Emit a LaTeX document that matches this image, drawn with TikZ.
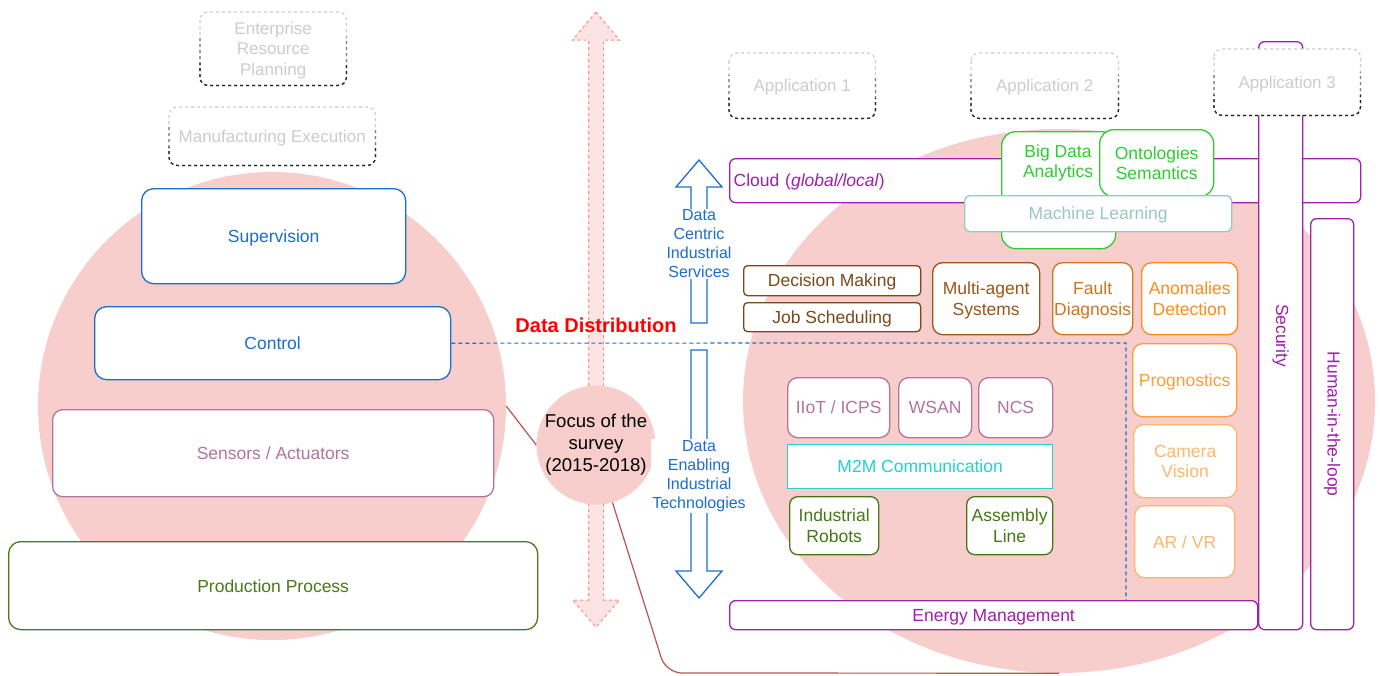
\documentclass[tikz,border=0pt]{standalone}
\usepackage{fontspec}
\usepackage{graphicx}
\setmainfont{Liberation Sans}
\usetikzlibrary{shapes.geometric}
\definecolor{pinkf}{HTML}{F8CECC}
\definecolor{redln}{HTML}{B85450}
\definecolor{arrowred}{HTML}{FF8A8A}
\definecolor{blu}{HTML}{1A6ECF}
\definecolor{mauve}{HTML}{B5739D}
\definecolor{olive}{HTML}{4A7A14}
\definecolor{dgreen}{HTML}{467716}
\definecolor{purp}{HTML}{A020AE}
\definecolor{bgreen}{HTML}{2FCC2F}
\definecolor{teal}{HTML}{9AC7BF}
\definecolor{dbrown}{HTML}{7A4919}
\definecolor{mbrown}{HTML}{9C5518}
\definecolor{forange}{HTML}{D2741F}
\definecolor{aorange}{HTML}{FF8B1E}
\definecolor{porange}{HTML}{FF9C3A}
\definecolor{lorange}{HTML}{FFB66C}
\definecolor{cyn}{HTML}{20D2D6}
\definecolor{ltgray}{HTML}{CCCCCC}
\newcommand\rbox[7]{\node[#1, anchor=north west, minimum width={#4-#2}, minimum height={#5-#3}] (#6) at (#2,#3) {#7};}
\newcommand\dashedbox[6]{%
  \node[dbox, anchor=north west, minimum width={#3-#1}, minimum height={#4-#2}] (#5) at (#1,#2) {#6};
  \draw[dashed, line width=1.2pt, draw=ltgray, rounded corners=8pt] (#5.north west) rectangle (#5.south east);
  \begin{scope}
    \clip ({#1-4},{#2+(#4-#2)*0.35}) rectangle ({#3+4},{#4+4});
    \draw[dashed, line width=1.2pt, draw=black!50, rounded corners=8pt] (#5.north west) rectangle (#5.south east);
  \end{scope}
  \begin{scope}
    \clip ({#1-4},{#2+(#4-#2)*0.7}) rectangle ({#3+4},{#4+4});
    \draw[dashed, line width=1.2pt, draw=black!85, rounded corners=8pt] (#5.north west) rectangle (#5.south east);
  \end{scope}}
\begin{document}
\begin{tikzpicture}[x=1pt,y=-1pt,
  lbl/.style={font=\fontsize{17.5}{20.5}\selectfont},
  box/.style={rectangle, draw, fill=white, line width=1.3pt, inner sep=0pt, align=center, rounded corners=12pt, lbl, text depth=0pt},
  dbox/.style={rectangle, fill=white, inner sep=0pt, align=center, rounded corners=8pt, text=ltgray, font=\fontsize{17}{20.5}\selectfont, text depth=0pt},
  bluebox/.style={box, draw=blu, text=blu},
  mauvebox/.style={box, draw=mauve, text=mauve, rounded corners=10pt},
  olivebox/.style={box, draw=olive, text=olive},
  purpbox/.style={box, draw=purp, text=purp, rounded corners=6pt},
  purpvbox/.style={rectangle, draw=purp, text=purp, fill=white, line width=1.3pt, inner sep=0pt, rounded corners=6pt, lbl},
  greenbox/.style={box, draw=bgreen, text=bgreen, rounded corners=14pt},
  brownbox/.style={box, draw=dbrown, text=dbrown, rounded corners=4pt},
  orbox/.style={box, rounded corners=10pt},
  bluearrow/.style={draw=blu, line width=1.3pt, fill=white, line join=miter},
  arrowlbl/.style={fill=white, inner sep=1pt, align=center, text=blu, font=\fontsize{16}{19}\selectfont},
  callout/.style={draw=redln, line width=1.2pt}
]
\useasboundingbox (0,0) rectangle (1380,675);
% background circles
\node[circle, fill=pinkf, minimum size=468pt, inner sep=0pt] (lcirc) at (272,406) {};
\node[ellipse, fill=pinkf, minimum width=632pt, minimum height=544pt, inner sep=0pt] (rell) at (1059,401) {};
% big dashed double arrow
\draw[dashed, draw=arrowred, fill=pinkf!55, line width=1pt]
  (596,12) -- (619.5,40) -- (603.5,40) -- (603.5,600) -- (619.5,600) -- (596,627)
  -- (572.5,600) -- (588.5,600) -- (588.5,40) -- (572.5,40) -- cycle;
% focus circle and callouts
\node[circle, fill=pinkf, minimum size=118pt, inner sep=0pt, align=center, font=\fontsize{18.6}{22}\selectfont] (focus) at (596,445) {Focus of the\\survey\\(2015-2018)};
\coordinate (bend) at (666,673);
\draw[callout] (lcirc.east) -- (focus.west);
\draw[callout, rounded corners=16pt] (focus.-74) -- (bend) -- (rell.south);
% data distribution
\node[text=red, font=\fontsize{20}{24}\selectfont\bfseries] (dd) at (596,325) {Data Distribution};
% left pyramid
\dashedbox{200}{12}{346}{85}{erp}{Enterprise\\Resource\\Planning}
\dashedbox{169}{107}{375}{165}{mes}{Manufacturing Execution}
\rbox{bluebox}{141}{188}{405}{283}{sup}{Supervision}
\rbox{bluebox}{94}{306}{450}{379}{ctrl}{Control}
\rbox{mauvebox}{52}{409}{493}{496}{sens}{Sensors / Actuators}
\rbox{olivebox}{8}{541}{537}{629}{prod}{Production Process}
% blue dashed boundary
\coordinate (dcorner) at (1126,343);
% blue arrows
\draw[bluearrow] (699,160) -- (722,187) -- (707,187) -- (707,323) -- (691,323) -- (691,187) -- (676,187) -- cycle;
\node[arrowlbl] (dcis) at (699,244) {Data\\Centric\\Industrial\\Services};
\draw[bluearrow] (691,350) -- (707,350) -- (707,571) -- (722,571) -- (699,598) -- (676,571) -- (691,571) -- cycle;
\node[arrowlbl] (deit) at (699,476) {Data\\Enabling\\Industrial\\Technologies};
% right side
\dashedbox{729}{53}{875}{118}{app1}{Application 1}
\dashedbox{971}{53}{1118}{118}{app2}{Application 2}
\rbox{purpbox, align=left, text width={631-8}, inner xsep=4pt}{729}{158}{1360}{202}{cloud}{Cloud (\textit{global/local})}
\rbox{greenbox}{1001}{131}{1115}{248}{bigdata}{}
\node[lbl, text=bgreen, align=center] (bigdatat) at (1058,163) {Big Data\\Analytics};
\rbox{greenbox}{1099}{129}{1213}{196}{onto}{Ontologies\\Semantics}
\rbox{box, draw=teal, text=teal, rounded corners=5pt}{964}{195}{1231}{231}{ml}{Machine Learning}
\rbox{purpvbox}{1258}{41}{1302}{629}{sec}{\rotatebox{-90}{Security}}
\dashedbox{1214}{49}{1360}{115}{app3}{Application 3}
\rbox{purpvbox}{1310}{218}{1353}{629}{hitl}{\rotatebox{-90}{Human-in-the-loop}}
\rbox{brownbox}{743}{265}{920}{295}{dm}{Decision Making}
\rbox{brownbox}{743}{302}{920}{331}{js}{Job Scheduling}
\rbox{orbox, draw=mbrown, text=mbrown}{932}{262}{1039}{334}{mas}{Multi-agent\\Systems}
\rbox{orbox, draw=forange, text=forange}{1052}{262}{1132}{334}{fd}{Fault\\Diagnosis}
\rbox{orbox, draw=aorange, text=aorange}{1141}{262}{1237}{334}{ad}{Anomalies\\Detection}
\rbox{orbox, draw=porange, text=porange}{1132}{343}{1236}{416}{prog}{Prognostics}
\rbox{orbox, draw=lorange, text=lorange}{1133}{424}{1236}{497}{cam}{Camera\\Vision}
\rbox{orbox, draw=lorange, text=lorange}{1134}{505}{1234}{577}{arvr}{AR / VR}
\rbox{mauvebox}{787}{377}{889}{437}{iiot}{IIoT / ICPS}
\rbox{mauvebox}{898}{377}{971}{437}{wsan}{WSAN}
\rbox{mauvebox}{978}{377}{1052}{437}{ncs}{NCS}
\rbox{box, draw=cyn, text=cyn, rounded corners=0pt}{787}{444}{1052}{488}{m2m}{M2M Communication}
\rbox{box, draw=dgreen, text=dgreen, rounded corners=8pt}{789}{496}{878}{554}{robots}{Industrial\\Robots}
\rbox{box, draw=dgreen, text=dgreen, rounded corners=8pt}{966}{496}{1052}{554}{asm}{Assembly\\Line}
\draw[blu, dashed, line width=1.2pt, dash pattern=on 4pt off 3pt] (ctrl.east) -- (dcorner) -- (dcorner |- 0,600);
\rbox{purpbox}{729}{600}{1257}{629}{energy}{Energy Management}
\end{tikzpicture}
\end{document}
